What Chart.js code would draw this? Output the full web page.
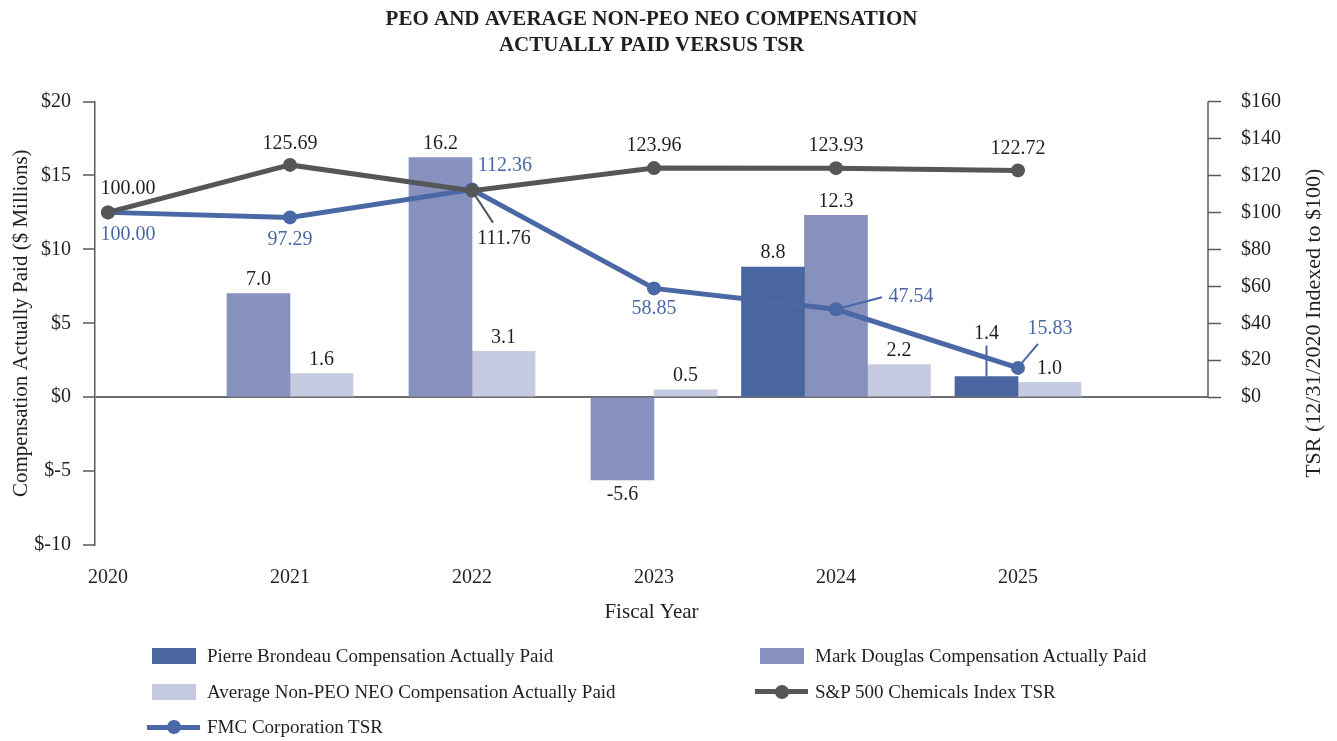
<!DOCTYPE html>
<html>
<head>
<meta charset="utf-8">
<title>PEO and Average Non-PEO NEO Compensation Actually Paid versus TSR</title>
<script src="https://cdn.jsdelivr.net/npm/chart.js@4.4.1/dist/chart.umd.min.js"></script>
<style>
  body { margin: 0; background: #fff; font-family: "Liberation Serif", serif; }
  #wrap { position: relative; width: 1337px; height: 741px; }
  #legend {
    position: absolute; left: 147px; top: 639px;
    display: grid; grid-template-columns: 608px auto; grid-template-rows: 34px 37px 34px;
    font-size: 19px; color: #231f20;
  }
  .item { display: flex; align-items: center; white-space: nowrap; }
  .swatch { width: 53px; height: 18px; position: relative; margin-right: 7px; flex: none; }
  .swatch .box { position: absolute; left: 4.5px; top: 1px; width: 44px; height: 16px; }
  .swatch .line { position: absolute; left: 0; top: 6.5px; width: 53px; height: 5px; }
  .swatch .dot { position: absolute; left: 19.5px; top: 2px; width: 14px; height: 14px; border-radius: 50%; }
</style>
</head>
<body>
<div id="wrap">
  <canvas id="capChart"></canvas>
  <div id="legend"></div>
</div>
<script>
// values
const years = ['2020', '2021', '2022', '2023', '2024', '2025'];
const brondeauCap = [null, null, null, null, 8.8, 1.4];
const douglasCap = [null, 7.0, 16.2, -5.6, 12.3, null];
const avgNeoCap = [null, 1.6, 3.1, 0.5, 2.2, 1.0];
const sp500ChemTsr = [100.00, 125.69, 111.76, 123.96, 123.93, 122.72];
const fmcTsr = [100.00, 97.29, 112.36, 58.85, 47.54, 15.83];
const compTicks = [-10, -5, 0, 5, 10, 15, 20];
const tsrTicks = [0, 20, 40, 60, 80, 100, 120, 140, 160];

const ink = '#231f20';
const axisColor = '#58595b';
const darkBlue = '#4966a0';
const midBlue = '#8691be';
const paleBlue = '#c7cbe1';
const grey = '#555658';
const fmcBlue = '#4a67a6';

Chart.defaults.font.family = '"Liberation Serif", "Times New Roman", serif';
Chart.defaults.font.size = 20;
Chart.defaults.color = ink;

const toPoints = arr => arr.map((v, i) => ({ x: i, y: v }));

// draws the value labels (and the few leader lines) next to bars and points
const valueLabels = {
    id: 'valueLabels',
    afterDatasetsDraw(chart) {
        const ctx = chart.ctx;
        ctx.save();
        ctx.font = '20px ' + Chart.defaults.font.family;
        ctx.textAlign = 'center';
        ctx.textBaseline = 'middle';
        chart.data.datasets.forEach((ds, di) => {
            const meta = chart.getDatasetMeta(di);
            meta.data.forEach((el, i) => {
                const v = ds.data[i].y;
                if (v === null) return;
                const off = (ds.labelOffsets && ds.labelOffsets[i]) || (v < 0 ? [0, 15] : [0, -14]);
                const lead = ds.leaders && ds.leaders[i];
                if (lead) {
                    ctx.strokeStyle = ds.leaderColor;
                    ctx.lineWidth = 2;
                    ctx.beginPath();
                    ctx.moveTo(el.x + lead[0], el.y + lead[1]);
                    ctx.lineTo(el.x + lead[2], el.y + lead[3]);
                    ctx.stroke();
                }
                ctx.fillStyle = ds.labelColor;
                ctx.fillText(v.toFixed(ds.decimals), el.x + off[0], el.y + off[1]);
            });
        });
        ctx.restore();
    }
};

// right axis: short spine ($0 - $160 only) and a bottom-to-top title
const tsrAxisExtras = {
    id: 'tsrAxisExtras',
    afterDraw(chart) {
        const s = chart.scales.y1;
        const ctx = chart.ctx;
        ctx.save();
        ctx.strokeStyle = axisColor;
        ctx.lineWidth = 1.5;
        ctx.beginPath();
        ctx.moveTo(s.left, s.getPixelForValue(Math.max(...tsrTicks)));
        ctx.lineTo(s.left, s.getPixelForValue(Math.min(...tsrTicks)));
        ctx.stroke();
        ctx.translate(s.right - 23, (chart.chartArea.top + chart.chartArea.bottom) / 2);
        ctx.rotate(-Math.PI / 2);
        ctx.font = '22px ' + Chart.defaults.font.family;
        ctx.fillStyle = ink;
        ctx.textAlign = 'center';
        ctx.textBaseline = 'middle';
        ctx.fillText('TSR (12/31/2020 Indexed to $100)', 0, 0);
        ctx.restore();
    }
};

const chart = new Chart(document.getElementById('capChart'), {
    type: 'bar',
    data: {
        datasets: [
            {
                type: 'bar',
                label: 'Pierre Brondeau Compensation Actually Paid',
                data: toPoints(brondeauCap),
                backgroundColor: darkBlue,
                yAxisID: 'y',
                order: 2,
                labelColor: ink, decimals: 1,
                labelOffsets: { 5: [0, -43] },
                leaders: { 5: [0, 0, 0, -31] },
                leaderColor: darkBlue
            },
            {
                type: 'bar',
                label: 'Mark Douglas Compensation Actually Paid',
                data: toPoints(douglasCap),
                backgroundColor: midBlue,
                yAxisID: 'y',
                order: 2,
                labelColor: ink, decimals: 1
            },
            {
                type: 'bar',
                label: 'Average Non-PEO NEO Compensation Actually Paid',
                data: toPoints(avgNeoCap),
                backgroundColor: paleBlue,
                yAxisID: 'y',
                order: 2,
                labelColor: ink, decimals: 1
            },
            {
                type: 'line',
                label: 'S&P 500 Chemicals Index TSR',
                data: toPoints(sp500ChemTsr),
                yAxisID: 'y1',
                borderColor: grey,
                backgroundColor: grey,
                pointBackgroundColor: grey,
                borderWidth: 5,
                pointRadius: 7,
                pointBorderWidth: 0,
                order: 0,
                labelColor: ink, decimals: 2,
                labelOffsets: { 0: [20, -24], 1: [0, -21], 2: [32, 48], 3: [0, -22], 4: [0, -22], 5: [0, -22] },
                leaders: { 2: [0, 0, 21, 32] },
                leaderColor: grey
            },
            {
                type: 'line',
                label: 'FMC Corporation TSR',
                data: toPoints(fmcTsr),
                yAxisID: 'y1',
                borderColor: fmcBlue,
                backgroundColor: fmcBlue,
                pointBackgroundColor: fmcBlue,
                borderWidth: 5,
                pointRadius: 7,
                pointBorderWidth: 0,
                order: 1,
                labelColor: fmcBlue, decimals: 2,
                labelOffsets: { 0: [20, 22], 1: [0, 22], 2: [33, -24], 3: [0, 20], 4: [75, -13], 5: [32, -39] },
                leaders: { 4: [0, 0, 46, -12], 5: [3, -4, 20, -24] },
                leaderColor: fmcBlue
            }
        ]
    },
    options: {
        responsive: true,
        maintainAspectRatio: false,
        animation: false,
        layout: { padding: 0 },
        datasets: {
            bar: { barThickness: 63, skipNull: true, grouped: true }
        },
        plugins: {
            legend: { display: false },
            title: {
                display: true,
                fullSize: false,
                text: ['PEO AND AVERAGE NON-PEO NEO COMPENSATION', 'ACTUALLY PAID VERSUS TSR'],
                color: ink,
                font: { size: 21, weight: 'bold', lineHeight: 1.25 },
                padding: { top: 6, bottom: 43 }
            }
        },
        scales: {
            x: {
                type: 'linear',
                offset: false,
                min: -0.0714,
                max: 6.044,
                afterBuildTicks: s => { s.ticks = years.map((_, i) => ({ value: i })); },
                ticks: {
                    callback: v => years[v],
                    padding: 13,
                    maxRotation: 0,
                    autoSkip: false
                },
                grid: { display: false, offset: false },
                border: { display: false },
                title: {
                    display: true,
                    text: 'Fiscal Year',
                    font: { size: 21 },
                    padding: { top: 0, bottom: 116 }
                },
                afterFit: s => { s.height = 196; }
            },
            y: {
                position: 'left',
                min: -10,
                max: 20,
                afterBuildTicks: s => { s.ticks = compTicks.map(v => ({ value: v })); },
                ticks: { callback: v => '$' + v, padding: 12 },
                grid: {
                    color: c => (c.tick && c.tick.value === 0 ? '#6d6e71' : 'rgba(0,0,0,0)'),
                    lineWidth: 2,
                    tickColor: axisColor,
                    tickWidth: 1.5,
                    tickLength: 12
                },
                border: { display: true, color: axisColor, width: 1.5 },
                title: {
                    display: true,
                    text: 'Compensation Actually Paid ($ Millions)',
                    font: { size: 21 },
                    padding: { top: 9, bottom: 0 }
                },
                afterFit: s => { s.width = 95; }
            },
            y1: {
                position: 'right',
                min: -80,
                max: 160,
                afterBuildTicks: s => { s.ticks = tsrTicks.map(v => ({ value: v })); },
                ticks: { callback: v => '$' + v, padding: 20 },
                grid: {
                    drawOnChartArea: false,
                    tickColor: axisColor,
                    tickWidth: 1.5,
                    tickLength: 13
                },
                border: { display: false },
                afterFit: s => { s.width = 129; }
            }
        }
    },
    plugins: [valueLabels, tsrAxisExtras]
});

// legend in two columns, built from the chart's datasets
const legendEl = document.getElementById('legend');
chart.data.datasets.forEach(ds => {
    const item = document.createElement('div');
    item.className = 'item';
    const sw = document.createElement('span');
    sw.className = 'swatch';
    if (ds.type === 'bar') {
        sw.innerHTML = `<i class="box" style="background:${ds.backgroundColor}"></i>`;
    } else {
        sw.innerHTML = `<i class="line" style="background:${ds.borderColor}"></i><i class="dot" style="background:${ds.borderColor}"></i>`;
    }
    const txt = document.createElement('span');
    txt.textContent = ds.label;
    item.appendChild(sw);
    item.appendChild(txt);
    legendEl.appendChild(item);
});
</script>
</body>
</html>
